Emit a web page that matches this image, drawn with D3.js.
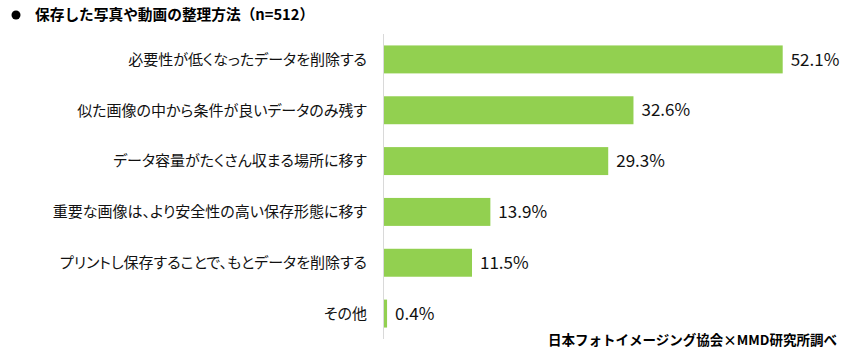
<!DOCTYPE html>
<html><head><meta charset="utf-8">
<script src="https://cdn.jsdelivr.net/npm/d3@7"></script>
<style>body{margin:0;background:#fff;} svg{display:block;font-family:"Noto Sans CJK JP","Noto Sans",sans-serif;}</style>
</head><body>
<svg id="c" width="847" height="359"></svg>
<script>
const categories = ["必要性が低くなったデータを削除する","似た画像の中から条件が良いデータのみ残す","データ容量がたくさん収まる場所に移す","重要な画像は、より安全性の高い保存形態に移す","プリントし保存することで、もとデータを削除する","その他"];
const values = [52.1,32.6,29.3,13.9,11.5,0.4];
const title = "保存した写真や動画の整理方法（n=512）";
const source = "日本フォトイメージング協会×MMD研究所調べ";

const svg = d3.select("#c");
const x = d3.scaleLinear().domain([0,52.1]).range([384,782.7]);
const y = d3.scaleBand().domain(categories).range([34,339]).paddingInner(0.45).paddingOuter(0.225);

svg.append("line").attr("x1",383.5).attr("x2",383.5).attr("y1",34).attr("y2",339)
  .attr("stroke","#d9d9d9").attr("stroke-width",1);

svg.selectAll("rect.bar").data(values).join("rect").attr("class","bar")
  .attr("x",x(0)).attr("y",(d,i)=>y(categories[i])).attr("width",d=>x(d)-x(0))
  .attr("height",y.bandwidth()).attr("fill","#92d050");

svg.selectAll("text.val").data(values).join("text").attr("class","val")
  .attr("x",d=>x(d)+8).attr("y",(d,i)=>y(categories[i])+y.bandwidth()/2)
  .attr("dy","0.36em").attr("font-size",17).attr("fill","#111").text(d=>d.toFixed(1)+"%");

svg.selectAll("text.cat").data(categories).join("text").attr("class","cat")
  .attr("x",367).attr("y",d=>y(d)+y.bandwidth()/2).attr("dy","0.36em")
  .attr("text-anchor","end").attr("font-size",15).attr("fill","#111")
  .style("font-feature-settings","'palt'").text(d=>d);

svg.append("circle").attr("cx",16).attr("cy",15).attr("r",4.5).attr("fill","#000");
svg.append("text").attr("x",35).attr("y",15).attr("dy","0.36em").attr("font-size",14.7)
  .attr("font-weight","bold").attr("fill","#000").text(title);

svg.append("text").attr("x",837).attr("y",340).attr("dy","0.36em").attr("text-anchor","end")
  .attr("font-size",13.5).attr("font-weight","bold").attr("fill","#000").text(source);
</script>
</body></html>
